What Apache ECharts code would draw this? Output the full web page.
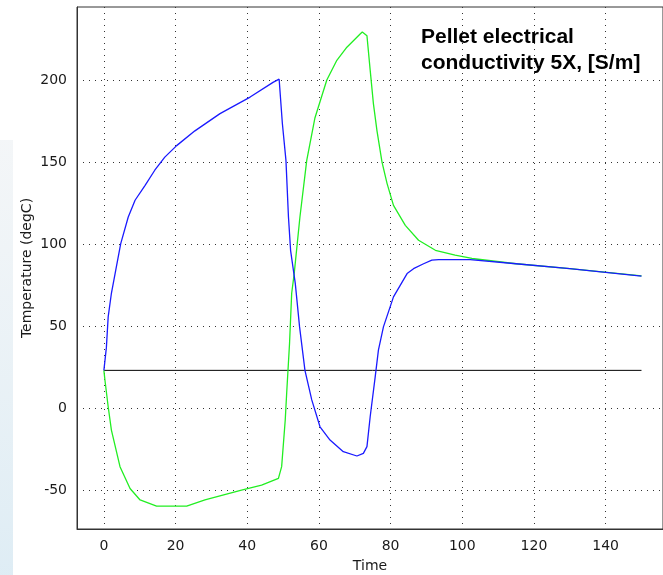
<!DOCTYPE html>
<html>
<head>
<meta charset="utf-8">
<script src="https://cdn.jsdelivr.net/npm/echarts@6/dist/echarts.min.js"></script>
<style>
  html, body { margin: 0; padding: 0; background: #fff; }
  #chart { width: 663px; height: 575px; }
</style>
</head>
<body>
<div id="chart"></div>
<script>
// tick labels
var timeTicks = [0, 20, 40, 60, 80, 100, 120, 140]
var tempTicks = [-50, 0, 50, 100, 150, 200]

// blue curve
var blueTime = [0, 0.1, 0.7, 1.2, 2.1, 3.3, 4.7, 6.8, 8.7, 11.5, 14.2, 17, 20.3, 25.4, 32.4, 40.8, 47.3, 48.9, 49.8, 50.8, 51.5, 52.1, 53.4, 54.6, 56.1, 58, 60.3, 63.1, 66.8, 70.6, 72.4, 73.4, 74.3, 75.7, 76.6, 78, 80.8, 84.6, 86.4, 89.2, 91.5, 93.4, 102.2, 115, 130, 150]
var blueTemp = [23, 25, 37, 55.6, 70, 84, 100.3, 116.5, 126.7, 135.8, 145, 153, 160, 169, 179.5, 189.6, 198.7, 200.5, 173.5, 151, 116.5, 96, 76, 49.5, 23, 5, -11.4, -19.5, -26.6, -29.2, -27.6, -23.5, -5.3, 19, 35.3, 49.5, 67.8, 82, 85, 88, 90.2, 90.5, 90.5, 88, 85, 80.4]

// green curve
var greenTime = [0, 0.3, 1.2, 2.1, 4.5, 7.3, 10.1, 14.7, 23.1, 28.2, 38.4, 44, 48.7, 49.6, 50.6, 51, 51.8, 52.4, 53.1, 54.7, 56.6, 58.9, 62.2, 65, 67.8, 71.5, 72.1, 73.4, 74.3, 75.2, 76.2, 77.6, 79, 80.8, 84.1, 87.8, 92.5, 98, 102.7, 115, 130, 150]
var greenTemp = [23, 17, 0.8, -13.4, -35.7, -49, -56, -59.7, -59.7, -56, -50, -47, -42.8, -35.7, -7.3, 9, 39.4, 70, 82, 116.5, 151, 177, 200, 212, 220, 228, 229.3, 227, 206, 185.6, 169, 150, 137, 123.6, 111.4, 102.3, 96.2, 93.2, 91.2, 88, 85, 80.6]

// initial temperature line
var baseTime = [0, 150]
var baseTemp = [23, 23]

function pairs(xs, ys) {
  return xs.map(function (x, i) { return [x, ys[i]] })
}

var myChart = echarts.init(document.getElementById('chart'))
var dotted = { color: '#333', width: 1, type: [1, 5] }
var labelFont = { fontFamily: 'DejaVu Sans', fontSize: 14, color: '#1a1a1a' }
var option = {
  backgroundColor: '#fff',
  animation: false,
  grid: {
    left: 77, top: 7, right: 0, bottom: 46,
    outerBoundsMode: 'none',
    show: true, borderColor: '#333', borderWidth: 1, backgroundColor: 'transparent'
  },
  graphic: [
    {
      // faint wallpaper strip at the left edge
      type: 'rect', left: 0, top: 140, z: -10, silent: true,
      shape: { width: 13, height: 435 },
      style: {
        fill: new echarts.graphic.LinearGradient(0, 0, 0, 1, [
          { offset: 0, color: 'rgba(236,240,243,0.6)' },
          { offset: 1, color: 'rgba(214,232,242,0.8)' }
        ])
      }
    },
    {
      type: 'text', left: 421, top: 24, z: 10,
      style: {
        text: 'Pellet electrical\nconductivity 5X, [S/m]',
        font: 'bold 21px "Liberation Sans", Arial, sans-serif',
        lineHeight: 26, fill: '#000'
      }
    }
  ],
  xAxis: {
    type: 'value', min: -7.5, max: 156,
    name: 'Time', nameLocation: 'middle', nameGap: 30, nameMoveOverlap: false,
    nameTextStyle: labelFont,
    axisLine: { show: true, onZero: false, lineStyle: { color: '#333', width: 1 } },
    axisTick: { show: false, customValues: timeTicks },
    axisLabel: Object.assign({ customValues: timeTicks, margin: 10 }, labelFont),
    splitLine: { show: true, lineStyle: dotted }
  },
  yAxis: {
    type: 'value', min: -73.7, max: 244.5,
    name: 'Temperature (degC)', nameLocation: 'middle', nameGap: 43, nameMoveOverlap: false,
    nameTextStyle: labelFont,
    axisLine: { show: true, onZero: false, lineStyle: { color: '#333', width: 1 } },
    axisTick: { show: false, customValues: tempTicks },
    axisLabel: Object.assign({ customValues: tempTicks, margin: 10 }, labelFont),
    splitLine: { show: true, lineStyle: dotted }
  },
  series: [
    {
      type: 'line', data: pairs(baseTime, baseTemp), symbol: 'none',
      lineStyle: { color: '#000', width: 1 }
    },
    {
      type: 'line', data: pairs(greenTime, greenTemp), symbol: 'none',
      lineStyle: { color: '#22ee22', width: 1.3 }
    },
    {
      type: 'line', data: pairs(blueTime, blueTemp), symbol: 'none',
      lineStyle: { color: '#1a1aff', width: 1.3 }
    }
  ]
}
myChart.setOption(option)
</script>
</body>
</html>
